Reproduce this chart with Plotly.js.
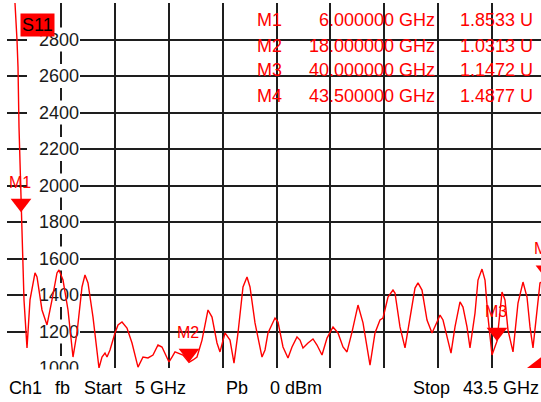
<!DOCTYPE html>
<html><head><meta charset="utf-8">
<script src="https://cdn.plot.ly/plotly-3.0.1.min.js"></script>
<style>html,body{margin:0;padding:0;overflow:hidden;background:#fff}#chart{width:548px;height:402px}</style>
</head><body><div id="chart"></div>
<script>
// ---- data ----
const startGHz = 5, stopGHz = 43.5;
const freqGHz = [5.0,5.571,5.714,5.786,5.857,5.929,6.0,6.071,6.143,6.214,6.429,6.643,7.0,7.143,7.5,7.857,8.214,8.571,8.714,9.0,
9.357,9.643,9.714,10.0,10.357,10.571,10.786,11.143,11.429,11.571,11.786,12.0,12.143,12.357,12.714,12.929,13.214,13.571,13.929,14.357,
14.714,15.071,15.429,15.786,16.071,16.429,16.571,16.786,17.0,17.571,18.0,18.286,18.571,18.929,19.357,19.643,20.0,20.214,20.571,20.929,
21.214,21.5,21.857,22.143,22.357,22.714,23.214,23.429,23.643,24.143,24.357,24.714,25.071,25.357,25.714,25.929,26.143,26.5,26.857,27.143,
27.5,27.857,28.286,28.643,29.0,29.286,29.643,30.071,30.429,30.929,31.286,31.643,31.857,32.214,32.571,32.714,33.071,33.429,33.786,34.143,
34.357,34.643,35.0,35.357,35.714,35.929,36.143,36.5,36.714,37.0,37.357,37.571,37.857,38.071,38.429,38.643,38.929,39.143,39.357,39.643,
40.0,40.357,40.571,40.786,41.143,41.5,41.857,42.143,42.357,42.571,42.857,43.071,43.5];
const magMU = [3400,3000,2797,2649,2321,2140,1853,1701,1608,1373,1110,1373,1521,1499,1318,1236,1373,1521,1537,1482,
1318,1115,1060,1192,1444,1510,1466,1279,1082,1000,1060,1082,1060,1099,1192,1236,1252,1219,1137,1005,
1060,1055,1071,1126,1115,1060,1033,1060,1088,1071,1031,1044,1060,1153,1318,1279,1137,1088,1192,1153,
1027,1192,1444,1499,1444,1247,1060,1099,1192,1274,1252,1115,1055,1115,1170,1153,1110,1137,1159,1126,
1071,1164,1225,1192,1115,1088,1197,1345,1247,1016,1192,1263,1274,1389,1427,1411,1225,1110,1263,1438,
1466,1427,1263,1192,1252,1290,1263,1153,1082,1225,1362,1334,1225,1110,1301,1482,1542,1482,1279,1071,
1147,1416,1373,1208,1088,1356,1471,1389,1225,1110,1334,1466,1488];
const markerNames = ['M1','M2','M3','M4'];
const markerFreqGHz = [6, 18, 40, 43.5];
const markerMU = [1853.3, 1031.3, 1147.2, 1487.7];
const refMarkerGHz = [43.5];
const refMarkerMU = [1000];
const yTickVals = [1000,1200,1400,1600,1800,2000,2200,2400,2600,2800,3000];
const yTickText = ['1000','1200','1400','1600','1800','2000','2200','2400','2600','2800',''];
const traceLabel = 'S11';
const statusLabels = ['Ch1','fb','Start','5 GHz','Pb','0 dBm','Stop','43.5 GHz'];

// ---- layout helpers (pixel -> paper / data) ----
const L = 7, T = 3, PW = 539, PH = 365;
const pxX = p => (p - L) / PW;
const pxY = p => (T + PH - p) / PH;
const pxGHz = p => startGHz + pxX(p) * (stopGHz - startGHz);
const RED = '#ff0000', GRID = '#1e1e1e', FONT = 'Liberation Sans, Arial, sans-serif';

const traces = [
  {x: freqGHz, y: magMU, type: 'scatter', mode: 'lines', line: {color: RED, width: 1.4}, hoverinfo: 'skip'},
  {x: refMarkerGHz, y: refMarkerMU, type: 'scatter', mode: 'markers', cliponaxis: true,
   marker: {symbol: 'triangle-left', size: 38, color: RED, line: {width: 0}}},
  {x: markerFreqGHz, y: markerMU, type: 'scatter', mode: 'markers', cliponaxis: false,
   marker: {symbol: 'triangle-up', angle: 180, standoff: 9, size: 18, color: RED, line: {width: 0}}}
];

const annotations = [];
annotations.push({xref: 'paper', yref: 'paper', x: pxX(37), y: pxY(24.5), xanchor: 'center', yanchor: 'middle',
  text: traceLabel, showarrow: false, bgcolor: RED, borderpad: 1, font: {family: FONT, size: 18, color: '#000'}});
markerNames.forEach((n, i) => annotations.push({x: markerFreqGHz[i], y: markerMU[i], xref: 'x', yref: 'y',
  text: n, showarrow: false, yshift: 30, xshift: -1, xanchor: 'center', yanchor: 'middle',
  font: {family: FONT, size: 16, color: RED}}));
const rowY = [20.5, 45.5, 70.5, 95.5];
markerNames.forEach((n, i) => {
  annotations.push({xref: 'paper', yref: 'paper', x: pxX(255), y: pxY(rowY[i]), xanchor: 'left', yanchor: 'middle',
    text: n, showarrow: false, font: {family: FONT, size: 18, color: RED}});
  annotations.push({xref: 'paper', yref: 'paper', x: pxX(437), y: pxY(rowY[i]), xanchor: 'right', yanchor: 'middle',
    text: markerFreqGHz[i].toFixed(6) + ' GHz', showarrow: false, font: {family: FONT, size: 18, color: RED}});
  annotations.push({xref: 'paper', yref: 'paper', x: pxX(535), y: pxY(rowY[i]), xanchor: 'right', yanchor: 'middle',
    text: (markerMU[i] / 1000).toFixed(4) + ' U', showarrow: false, font: {family: FONT, size: 18, color: RED}});
});
const statusX = [9, 55, 84, 135, 226, 270, 413, 463];
statusLabels.forEach((s, i) => annotations.push({xref: 'paper', yref: 'paper', x: pxX(statusX[i] - 2), y: pxY(388),
  xanchor: 'left', yanchor: 'middle', text: s, showarrow: false, font: {family: FONT, size: 18, color: '#000'}}));

const shapes = [];
// white backgrounds behind y tick labels (drawn between grid and traces; data refs so 'between' applies)
yTickVals.forEach((v, i) => { if (yTickText[i]) shapes.push({type: 'rect', layer: 'between', xref: 'x', yref: 'y',
  x0: pxGHz(27), x1: pxGHz(80), y0: v - 66, y1: v + 66, fillcolor: '#fff', line: {width: 0}}); });
// status bar background (covers the clipped lowest label)
shapes.push({type: 'rect', layer: 'above', xref: 'paper', yref: 'paper', x0: -0.05, x1: 1.05,
  y0: pxY(410), y1: pxY(369.6), fillcolor: '#fff', line: {width: 0}});

const layout = {
  width: 548, height: 402, margin: {l: L, r: 548 - L - PW, t: T, b: 402 - T - PH, pad: 0},
  paper_bgcolor: '#fff', plot_bgcolor: '#fff', showlegend: false,
  font: {family: FONT, size: 18, color: '#000'},
  xaxis: {range: [startGHz, stopGHz], tick0: startGHz, dtick: (stopGHz - startGHz) / 10, showticklabels: false,
    showgrid: true, gridcolor: GRID, gridwidth: 2, zeroline: false, showline: false, ticks: '', fixedrange: true},
  yaxis: {range: [1000, 3000], tickmode: 'array', tickvals: yTickVals, ticktext: yTickText,
    showgrid: true, gridcolor: GRID, gridwidth: 2, zeroline: false, showline: false, ticks: '',
    anchor: 'free', position: pxX(79), layer: 'below traces',
    tickfont: {family: FONT, size: 18, color: '#1a1a1a'}, fixedrange: true},
  annotations: annotations, shapes: shapes
};
Plotly.newPlot('chart', traces, layout, {staticPlot: true, displayModeBar: false});
</script>
</body></html>
